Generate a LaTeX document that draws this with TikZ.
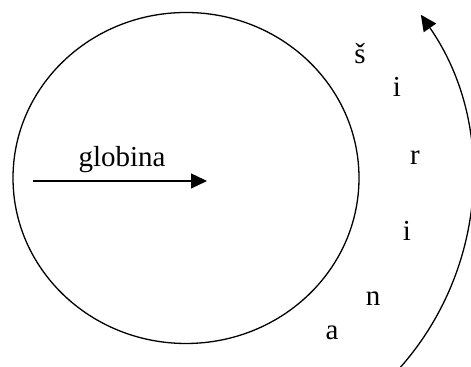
\documentclass[tikz,border=0pt]{standalone}
\usepackage{fontspec}
\setmainfont{Liberation Serif}
\usetikzlibrary{arrows.meta}
\tikzset{
  letter/.style={inner sep=0pt, font=\fontsize{14.5}{17}\selectfont},
  tip/.style={-{Triangle[length=8pt,width=7.5pt]}}
}
\begin{document}
\begin{tikzpicture}[x=0.5pt,y=0.5pt,line width=0.65pt]
    \useasboundingbox (0,0) rectangle (471,367);
    \coordinate (O) at (186,189);
    \draw (O) ellipse [x radius=86.5pt, y radius=82.75pt];

    \coordinate (start) at (33,186);
    \coordinate (end) at (207,186);
    \node[letter, anchor=base] (globina) at (122,200) {globina};
    \path [tip] (start) edge (end);

    \node[letter] (s) at (360,313) {š};
    \node[letter] (i1) at (397,280) {i};
    \node[letter] (r) at (415,209) {r};
    \node[letter] (i2) at (407,136) {i};
    \node[letter] (n) at (373,68) {n};
    \node[letter] (a) at (332,34) {a};

    \draw [tip] ([shift={(-45:143pt)}]O) arc [start angle=-45, end angle=34.8, radius=143pt];
  \end{tikzpicture}
\end{document}
